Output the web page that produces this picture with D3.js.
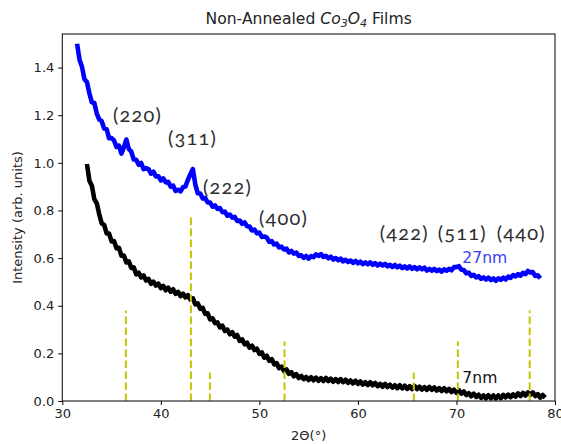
<!DOCTYPE html>
<html>
<head>
<meta charset="utf-8">
<script src="https://cdn.jsdelivr.net/npm/d3@7"></script>
<style>
  html, body { margin: 0; padding: 0; background: #fff; }
  svg { display: block; }
  .tick text { font-family: "DejaVu Sans", sans-serif; font-size: 13px; fill: #222; }
</style>
</head>
<body>
<svg id="chart" width="561" height="444"></svg>
<script>
// 2θ scan grid (degrees), shared by both films
const twoTheta = [
  31.5,31.75,32,32.25,32.5,32.75,33,33.25,33.5,33.75,34,34.25,34.5,34.75,35,35.25,35.5,35.75,36,36.25,
  36.5,36.75,37,37.25,37.5,37.75,38,38.25,38.5,38.75,39,39.25,39.5,39.75,40,40.25,40.5,40.75,41,41.25,
  41.5,41.75,42,42.25,42.5,42.75,43,43.25,43.5,43.75,44,44.25,44.5,44.75,45,45.25,45.5,45.75,46,46.25,
  46.5,46.75,47,47.25,47.5,47.75,48,48.25,48.5,48.75,49,49.25,49.5,49.75,50,50.25,50.5,50.75,51,51.25,
  51.5,51.75,52,52.25,52.5,52.75,53,53.25,53.5,53.75,54,54.25,54.5,54.75,55,55.25,55.5,55.75,56,56.25,
  56.5,56.75,57,57.25,57.5,57.75,58,58.25,58.5,58.75,59,59.25,59.5,59.75,60,60.25,60.5,60.75,61,61.25,
  61.5,61.75,62,62.25,62.5,62.75,63,63.25,63.5,63.75,64,64.25,64.5,64.75,65,65.25,65.5,65.75,66,66.25,
  66.5,66.75,67,67.25,67.5,67.75,68,68.25,68.5,68.75,69,69.25,69.5,69.75,70,70.25,70.5,70.75,71,71.25,
  71.5,71.75,72,72.25,72.5,72.75,73,73.25,73.5,73.75,74,74.25,74.5,74.75,75,75.25,75.5,75.75,76,76.25,
  76.5,76.75,77,77.25,77.5,77.75,78,78.25,78.5,78.75,79
];

// 27 nm film intensity (arb. units)
const film27nm = [
  1.500,1.433,1.403,1.351,1.339,1.292,1.254,1.251,1.207,1.182,1.175,1.144,1.141,1.103,1.104,1.094,1.067,1.072,1.039,1.066,
  1.098,1.058,1.047,1.014,1.013,0.992,1.000,0.974,0.978,0.974,0.954,0.963,0.943,0.944,0.926,0.935,0.918,0.920,0.900,0.904,
  0.882,0.887,0.880,0.898,0.901,0.929,0.952,0.974,0.909,0.872,0.871,0.850,0.852,0.834,0.833,0.816,0.821,0.807,0.810,0.793,
  0.795,0.778,0.783,0.770,0.773,0.756,0.758,0.744,0.750,0.734,0.733,0.716,0.720,0.704,0.707,0.689,0.691,0.686,0.668,0.671,
  0.657,0.661,0.645,0.648,0.636,0.640,0.624,0.630,0.619,0.623,0.609,0.612,0.601,0.609,0.598,0.608,0.604,0.616,0.609,0.617,
  0.605,0.610,0.599,0.606,0.594,0.600,0.591,0.598,0.586,0.593,0.584,0.590,0.580,0.588,0.578,0.585,0.575,0.582,0.574,0.582,
  0.572,0.579,0.569,0.577,0.569,0.576,0.565,0.572,0.563,0.571,0.561,0.568,0.558,0.565,0.557,0.565,0.555,0.562,0.553,0.561,
  0.553,0.560,0.548,0.555,0.547,0.555,0.545,0.552,0.543,0.553,0.547,0.555,0.549,0.562,0.562,0.566,0.551,0.550,0.536,0.539,
  0.525,0.530,0.519,0.524,0.513,0.519,0.510,0.518,0.508,0.515,0.505,0.515,0.509,0.518,0.510,0.522,0.517,0.529,0.523,0.533,
  0.526,0.538,0.533,0.546,0.540,0.541,0.525,0.528,0.515,null,null
];

// 7 nm film intensity (arb. units)
const film7nm = [
  null,null,null,null,0.995,0.925,0.904,0.848,0.830,0.784,0.746,0.739,0.704,0.703,0.670,0.672,0.641,0.643,0.610,0.611,
  0.582,0.586,0.559,0.561,0.532,0.539,0.519,0.527,0.506,0.513,0.492,0.501,0.485,0.493,0.474,0.483,0.465,0.476,0.459,0.469,
  0.450,0.458,0.440,0.451,0.435,0.444,0.426,0.431,0.406,0.410,0.387,0.391,0.366,0.368,0.343,0.347,0.327,0.330,0.309,0.316,
  0.294,0.300,0.280,0.289,0.270,0.277,0.252,0.259,0.238,0.245,0.224,0.232,0.214,0.220,0.198,0.204,0.182,0.190,0.169,0.176,
  0.154,0.159,0.138,0.144,0.126,0.133,0.114,0.121,0.104,0.113,0.096,0.105,0.092,0.101,0.088,0.100,0.087,0.098,0.085,0.096,
  0.084,0.097,0.084,0.094,0.081,0.092,0.080,0.092,0.079,0.089,0.076,0.086,0.074,0.085,0.072,0.082,0.069,0.079,0.067,0.079,
  0.066,0.076,0.062,0.072,0.060,0.072,0.059,0.069,0.056,0.066,0.054,0.066,0.053,0.064,0.051,0.062,0.050,0.063,0.050,0.060,
  0.048,0.058,0.047,0.059,0.047,0.057,0.044,0.054,0.042,0.054,0.041,0.051,0.038,0.047,0.034,0.045,0.031,0.040,0.025,0.033,
  0.020,0.031,0.017,0.026,0.013,0.023,0.011,0.024,0.012,0.023,0.011,0.023,0.012,0.026,0.015,0.027,0.016,0.028,0.018,0.032,
  0.021,0.034,0.023,0.036,0.026,0.036,0.021,0.029,0.014,0.025,0.014
];

// Reference reflection positions (2θ) and stick heights
const refPeaks2Theta = [36.45, 43.05, 44.98, 52.55, 65.67, 70.14, 77.43];
const refPeakHeights = [0.38, 0.77, 0.12, 0.25, 0.12, 0.25, 0.38];

// Miller-index labels and their anchor points (2θ, intensity)
const hklLabels = ["(220)", "(311)", "(222)", "(400)", "(422)", "(511)", "(440)"];
const hklAnchor2Theta = [35.14, 40.72, 44.27, 49.95, 62.22, 68.10, 74.09];
const hklAnchorIntensity = [1.204, 1.109, 0.903, 0.774, 0.710, 0.710, 0.710];

const xTicks = [30, 40, 50, 60, 70, 80];
const yTicks = [0.0, 0.2, 0.4, 0.6, 0.8, 1.0, 1.2, 1.4];

const plot = { left: 62.3, right: 555, top: 34, bottom: 401 };

const svg = d3.select("#chart");
const x = d3.scaleLinear().domain([30, 80]).range([plot.left, plot.right]);
const y = d3.scaleLinear().domain([0, 1.541]).range([plot.bottom, plot.top]);

// axes
const xAxis = svg.append("g")
  .attr("transform", `translate(0,${plot.bottom})`)
  .call(d3.axisBottom(x).tickValues(xTicks).tickFormat(d3.format("d")).tickSize(4).tickPadding(4));
const yAxis = svg.append("g")
  .attr("transform", `translate(${plot.left},0)`)
  .call(d3.axisLeft(y).tickValues(yTicks).tickFormat(d3.format(".1f")).tickSize(4).tickPadding(4));
[xAxis, yAxis].forEach(g => {
  g.select(".domain").remove();
  g.selectAll(".tick line").attr("stroke", "#000").attr("stroke-width", 1);
  g.selectAll(".tick text").attr("font-family", null).attr("font-size", null);
});

// spectra
const clipId = "plot-clip";
svg.append("clipPath").attr("id", clipId)
  .append("rect")
  .attr("x", plot.left).attr("y", plot.top)
  .attr("width", plot.right - plot.left).attr("height", plot.bottom - plot.top);

function spectrumLine(values) {
  return d3.line()
    .defined((d, i) => values[i] !== null)
    .x((d, i) => x(twoTheta[i]))
    .y((d, i) => y(values[i]))(values);
}

const spectra = svg.append("g").attr("clip-path", `url(#${clipId})`);
spectra.append("path")
  .attr("d", spectrumLine(film27nm))
  .attr("fill", "none").attr("stroke", "#0000ff")
  .attr("stroke-width", 4.6).attr("stroke-linejoin", "round");
spectra.append("path")
  .attr("d", spectrumLine(film7nm))
  .attr("fill", "none").attr("stroke", "#000")
  .attr("stroke-width", 4.6).attr("stroke-linejoin", "round");

// reference sticks
spectra.selectAll("line.ref")
  .data(refPeaks2Theta)
  .join("line")
  .attr("class", "ref")
  .attr("x1", d => x(d)).attr("x2", d => x(d))
  .attr("y1", y(0)).attr("y2", (d, i) => y(refPeakHeights[i]))
  .attr("stroke", "#c4c400").attr("stroke-width", 2)
  .attr("stroke-dasharray", "7.5,3.5");

// frame
svg.append("rect")
  .attr("x", plot.left).attr("y", plot.top)
  .attr("width", plot.right - plot.left).attr("height", plot.bottom - plot.top)
  .attr("fill", "none").attr("stroke", "#000").attr("stroke-width", 1);

// hkl labels
svg.selectAll("text.hkl")
  .data(hklLabels)
  .join("text")
  .attr("class", "hkl")
  .attr("x", (d, i) => x(hklAnchor2Theta[i]))
  .attr("y", (d, i) => y(hklAnchorIntensity[i]))
  .attr("dominant-baseline", "central")
  .attr("font-family", "Lato, 'Noto Sans', sans-serif")
  .attr("font-size", 20)
  .attr("letter-spacing", 1.2)
  .style("font-variant-numeric", "oldstyle-nums")
  .attr("fill", "#2e2e2e")
  .text(d => d);

// film thickness labels
svg.append("text")
  .attr("x", x(70.6)).attr("y", y(0.580))
  .attr("font-family", "DejaVu Sans, sans-serif").attr("font-size", 15.6)
  .attr("fill", "#3b3bf5").text("27nm");
svg.append("text")
  .attr("x", x(70.6)).attr("y", y(0.076))
  .attr("font-family", "DejaVu Sans, sans-serif").attr("font-size", 15.6)
  .attr("fill", "#111").text("7nm");

// title
const title = svg.append("text")
  .attr("x", (plot.left + plot.right) / 2).attr("y", 24)
  .attr("text-anchor", "middle")
  .attr("font-family", "DejaVu Sans, sans-serif").attr("font-size", 15.6)
  .attr("fill", "#222");
title.append("tspan").text("Non-Annealed ");
title.append("tspan").attr("font-style", "italic").text("Co");
title.append("tspan").attr("font-style", "italic").attr("font-size", 11).attr("dy", 3).text("3");
title.append("tspan").attr("font-style", "italic").attr("dy", -3).text("O");
title.append("tspan").attr("font-style", "italic").attr("font-size", 11).attr("dy", 3).text("4");
title.append("tspan").attr("dy", -3).text(" Films");

// axis titles
svg.append("text")
  .attr("x", (plot.left + plot.right) / 2).attr("y", 440)
  .attr("text-anchor", "middle")
  .attr("font-family", "DejaVu Sans, sans-serif").attr("font-size", 13)
  .attr("fill", "#222").text("2Θ(°)");
svg.append("text")
  .attr("transform", `translate(22,${(plot.top + plot.bottom) / 2}) rotate(-90)`)
  .attr("text-anchor", "middle")
  .attr("font-family", "DejaVu Sans, sans-serif").attr("font-size", 13)
  .attr("fill", "#222").text("Intensity (arb. units)");
</script>
</body>
</html>
